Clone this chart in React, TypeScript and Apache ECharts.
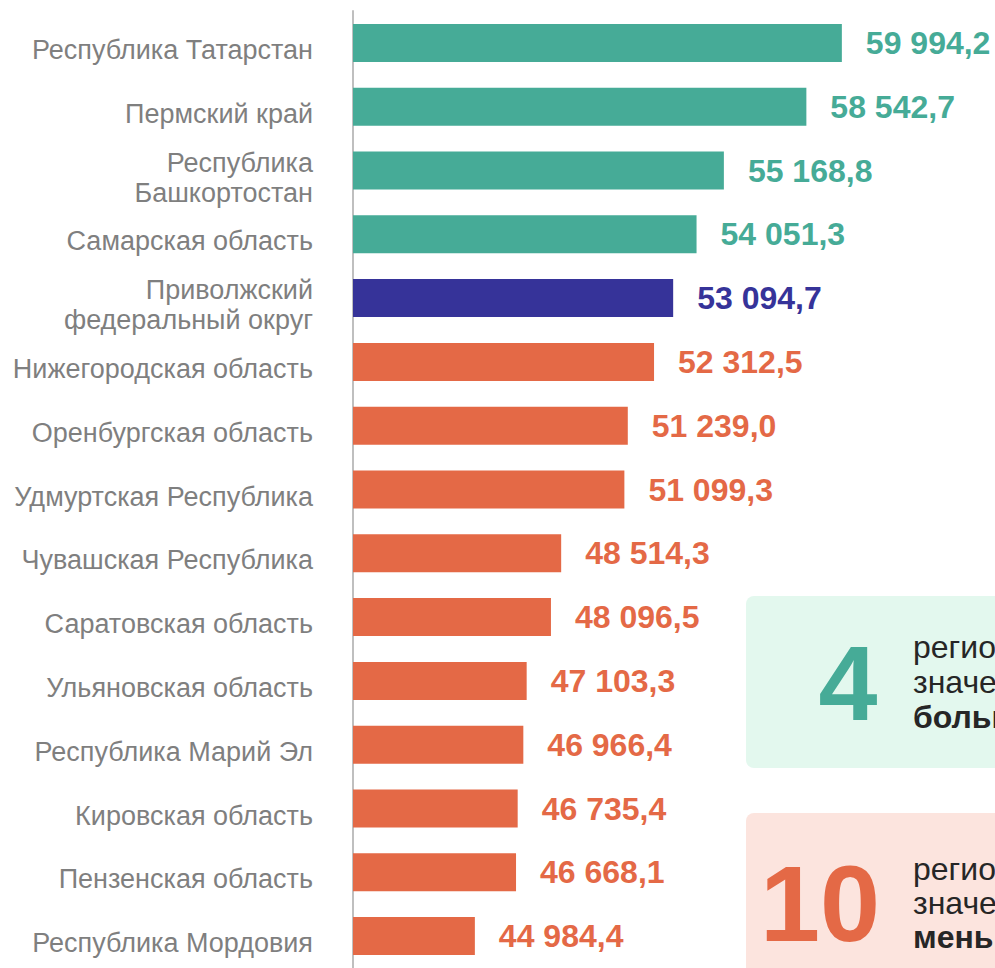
import React, { useEffect, useRef } from "react";
import * as echarts from "echarts";

const categories = [
  "Республика Татарстан",
  "Пермский край",
  "Республика\nБашкортостан",
  "Самарская область",
  "Приволжский\nфедеральный округ",
  "Нижегородская область",
  "Оренбургская область",
  "Удмуртская Республика",
  "Чувашская Республика",
  "Саратовская область",
  "Ульяновская область",
  "Республика Марий Эл",
  "Кировская область",
  "Пензенская область",
  "Республика Мордовия",
];

const values = [
  59994.2, 58542.7, 55168.8, 54051.3, 53094.7, 52312.5, 51239.0, 51099.3,
  48514.3, 48096.5, 47103.3, 46966.4, 46735.4, 46668.1, 44984.4,
];

// group: "above" | "district" | "below"
const groups = [
  "above", "above", "above", "above", "district",
  "below", "below", "below", "below", "below",
  "below", "below", "below", "below", "below",
];

const aboveCount = "4";
const belowCount = "10";
const aboveText = ["региона со", "значением", "больше среднего"];
const belowText = ["регионов со", "значением", "меньше среднего"];

const COLORS: Record<string, string> = {
  above: "#46ab97",
  district: "#363399",
  below: "#e46946",
};

function fmt(v: number): string {
  const [i, d] = v.toFixed(1).split(".");
  return i.replace(/\B(?=(\d{3})+(?!\d))/g, " ") + "," + d;
}

export default function App() {
  const ref = useRef<HTMLDivElement>(null);
  useEffect(() => {
    document.body.style.margin = "0";
    if (!ref.current) return;
    const chart = echarts.init(ref.current, undefined, { renderer: "svg" });
    const font = "Liberation Sans, Arial, sans-serif";
    chart.setOption({
      animation: false,
      grid: { left: 353, top: 11, width: 489, height: 963, containLabel: false },
      xAxis: {
        type: "value",
        min: 40000,
        max: 60000,
        show: false,
      },
      yAxis: {
        type: "category",
        inverse: true,
        data: categories,
        axisLine: { show: true, lineStyle: { color: "#bfbfbf", width: 2 } },
        axisTick: { show: false },
        splitLine: { show: false },
        axisLabel: {
          margin: 40,
          align: "right",
          formatter: (v: string) =>
            v.split("\n").map((s) => "{a|" + s + "}").join("\n"),
          rich: {
            a: {
              fontSize: 27,
              fontFamily: font,
              color: "#7f7f7f",
              lineHeight: 30,
              padding: [14, 0, 0, 0],
              align: "right",
            },
          },
        },
      },
      series: [
        {
          type: "bar",
          barWidth: 38,
          data: values.map((v, i) => ({
            value: v,
            itemStyle: { color: COLORS[groups[i]] },
            label: { color: COLORS[groups[i]] },
          })),
          label: {
            show: true,
            position: "right",
            distance: 24,
            fontSize: 32,
            fontWeight: "bold",
            fontFamily: font,
            formatter: (p: any) => fmt(p.value),
          },
        },
      ],
      graphic: [
        {
          type: "rect",
          shape: { x: 746, y: 596, width: 300, height: 172, r: 8 },
          style: { fill: "#e3f8ee" },
          z: 1,
        },
        {
          type: "text",
          x: 848,
          y: 683,
          style: {
            text: aboveCount,
            fontSize: 106,
            fontWeight: "bold",
            fontFamily: font,
            fill: "#46ab97",
            align: "center",
            verticalAlign: "middle",
          },
          z: 2,
        },
        ...aboveText.map((t, i) => ({
          type: "text",
          x: 913,
          y: 647 + i * 35,
          style: {
            text: t,
            fontSize: 32,
            fontWeight: i === 2 ? "bold" : "normal",
            fontFamily: font,
            fill: "#262626",
            align: "left",
            verticalAlign: "middle",
          },
          z: 2,
        })),
        {
          type: "rect",
          shape: { x: 746, y: 813, width: 300, height: 200, r: 8 },
          style: { fill: "#fce4de" },
          z: 1,
        },
        {
          type: "text",
          x: 820,
          y: 903,
          style: {
            text: belowCount,
            fontSize: 108,
            fontWeight: "bold",
            fontFamily: font,
            fill: "#e46946",
            align: "center",
            verticalAlign: "middle",
          },
          z: 2,
        },
        ...belowText.map((t, i) => ({
          type: "text",
          x: 913,
          y: 869 + i * 34,
          style: {
            text: t,
            fontSize: 32,
            fontWeight: i === 2 ? "bold" : "normal",
            fontFamily: font,
            fill: "#262626",
            align: "left",
            verticalAlign: "middle",
          },
          z: 2,
        })),
      ],
    });
    return () => chart.dispose();
  }, []);
  return <div ref={ref} style={{ width: 995, height: 968 }} />;
}
